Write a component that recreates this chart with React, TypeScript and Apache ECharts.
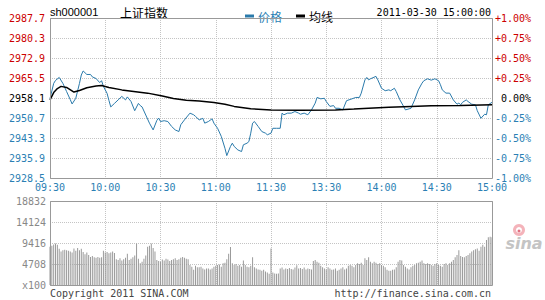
import React, { useEffect, useRef } from "react";
import * as echarts from "echarts";

const PREV_CLOSE = 2958.1;

const timeLabels = ["09:30", "10:00", "10:30", "11:00", "11:30", "13:30", "14:00", "14:30", "15:00"];
const leftTickLabels = ["2928.5", "2935.9", "2943.3", "2950.7", "2958.1", "2965.5", "2972.9", "2980.3", "2987.7"];
const rightTickLabels = ["-1.00%", "-0.75%", "-0.50%", "-0.25%", "0.00%", "+0.25%", "+0.50%", "+0.75%", "+1.00%"];
const volTickLabels = ["x100", "4708", "9416", "14124", "18832"];

// minute index (0 = 09:30, 120 = 11:30, 121 = 13:01, 240 = 15:00)
const priceMinutes = [
  0, 2, 3, 5, 7, 9, 11, 12, 14, 16,
  17, 18, 20, 22, 23, 25, 27, 28, 29, 31,
  32, 33, 35, 37, 39, 41, 42, 44, 46, 48,
  49, 50, 52, 54, 56, 58, 59, 60, 62, 64,
  66, 68, 70, 71, 73, 76, 78, 79, 81, 83,
  84, 86, 88, 89, 91, 93, 95, 96, 98, 99,
  100, 102, 104, 105, 107, 108, 109, 110, 111, 113,
  115, 117, 118, 120,
  121, 123, 125, 126, 127, 129, 131, 133, 135, 136,
  138, 140, 142, 144, 145, 147, 149, 150, 152, 154,
  155, 157, 159, 161, 164, 166, 168, 169, 171, 172,
  173, 174, 177, 178, 180, 182, 184, 185, 187, 188,
  190, 192, 193, 195, 196, 198, 200, 202, 203, 205,
  207, 209, 211, 212, 213, 215, 217, 219, 221, 222,
  223, 224, 226, 227, 229, 231, 232, 234, 236, 237,
  238, 240,
];
const priceValues = [
  2957.9, 2963.5, 2964.6, 2965.7, 2963.5, 2960.5, 2957.5, 2955.9, 2958.0, 2963.5,
  2966.6, 2968.1, 2966.8, 2966.8, 2965.9, 2965.3, 2963.8, 2964.5, 2962.4, 2959.8,
  2957.2, 2954.8, 2956.1, 2957.4, 2958.7, 2957.4, 2958.5, 2956.8, 2953.4, 2956.1,
  2955.3, 2954.8, 2951.8, 2948.8, 2946.3, 2949.8, 2950.7, 2949.4, 2949.7, 2949.4,
  2947.6, 2946.3, 2945.7, 2948.2, 2950.0, 2952.5, 2951.9, 2951.3, 2950.0, 2950.6,
  2948.8, 2949.4, 2950.4, 2948.8, 2946.9, 2943.9, 2939.5, 2936.8, 2940.2, 2941.4,
  2940.2, 2938.9, 2938.3, 2940.8, 2941.4, 2942.0, 2945.1, 2948.8, 2949.4, 2947.6,
  2945.7, 2945.1, 2944.5, 2945.1,
  2946.9, 2946.9, 2946.9, 2952.5, 2951.9, 2952.5, 2952.5, 2953.1, 2952.5, 2952.1,
  2952.5, 2951.9, 2953.7, 2956.2, 2958.3, 2957.8, 2958.0, 2956.8, 2955.0, 2955.3,
  2954.3, 2954.3, 2953.7, 2957.1, 2957.8, 2958.3, 2958.3, 2959.9, 2964.8, 2965.7,
  2964.8, 2965.2, 2966.1, 2964.8, 2961.7, 2960.8, 2961.1, 2960.8, 2961.7, 2960.5,
  2957.4, 2955.0, 2953.7, 2954.1, 2954.3, 2957.4, 2961.1, 2963.6, 2964.5, 2965.2,
  2964.7, 2965.2, 2964.5, 2963.0, 2961.1, 2959.9, 2959.9, 2957.4, 2955.8, 2956.2,
  2955.6, 2956.5, 2957.4, 2956.8, 2955.8, 2955.6, 2953.4, 2950.6, 2952.1, 2951.9,
  2955.6, 2956.5,
];

const avgMinutes = [0, 2, 4, 6, 9, 13, 16, 20, 25, 28, 32, 39, 53, 61, 67, 74, 81, 89, 95, 100, 109, 120, 136, 155, 165, 173, 184, 196, 207, 223, 240];
const avgValues = [
  2957.4, 2960.1, 2961.6, 2962.4, 2962.0, 2960.3, 2960.9, 2961.9, 2962.5, 2962.7,
  2962.0, 2961.1, 2959.9, 2958.8, 2957.9, 2957.3, 2957.0, 2956.4, 2955.8, 2955.0,
  2954.1, 2953.7, 2953.6, 2953.7, 2954.0, 2954.3, 2954.7, 2955.0, 2955.2, 2955.3,
  2955.6,
];

// volume (x100), one per minute index 0..240
const volumes = [
  8600, 8800, 9100, 9300, 9000, 8100, 7500, 7800, 7900, 7800,
  7700, 7500, 7300, 8200, 7700, 8300, 7800, 8100, 7400, 6900,
  7300, 6700, 6300, 6500, 6200, 6100, 6300, 6100, 6200, 7700,
  7300, 7400, 7100, 7300, 7500, 7200, 5800, 5600, 6000, 5500,
  5800, 6100, 7000, 5600, 5900, 6200, 6600, 9300, 5900, 4900,
  5200, 5900, 6600, 8600, 8800, 9300, 8300, 7500, 5600, 5400,
  5200, 5700, 5500, 5900, 5700, 5400, 5600, 5800, 6000, 5600,
  5800, 6100, 6300, 6100, 5900, 5800, 4500, 4100, 3400, 4300,
  4000, 4000, 4100, 3700, 3500, 3700, 3700, 3500, 3700, 4100,
  4300, 4500, 4600, 4100, 4900, 5000, 5800, 7000, 8500, 4900,
  4500, 4700, 4300, 4500, 4100, 5500, 4500, 4100, 4000, 4300,
  6200, 4000, 3700, 3500, 3400, 3200, 3400, 3000, 2800, 2500,
  8200,
  2800, 2600, 2500, 2600, 3700,
  3900, 3500, 3700, 3600, 3800, 3600, 3500, 3900, 4400, 3700, 3800, 3600, 3900, 3500, 3700, 3600, 3500,
  5400, 5600, 5200, 5000,
  4300, 4000, 3700, 3500, 4000, 3700, 3400, 3500, 3700,
  3200, 3400, 3700, 4000, 3500, 3700,
  4300, 4500, 4300, 4000, 4500, 4900, 4700, 5000, 4500,
  6000, 5600, 6200, 5200,
  4900, 5200, 5000, 4700, 4900, 4500, 4300,
  4000, 3400, 3200, 3200, 3400, 3500, 4000,
  5200, 5600, 5500,
  4500, 4100, 3700, 3500, 4000, 4300,
  4500, 4900, 5000, 5200, 5500, 4900, 4700,
  4900, 4700, 4500, 4300, 4700, 4900, 4500, 4300, 4100, 4700, 4900, 4500,
  4900, 5200, 5600, 6200, 6700, 7800,
  6500, 6300, 6200, 6500, 6700, 7100, 7500,
  7800, 8000, 8200, 7700, 8600,
  9000, 8600, 10100, 10700, 10800, 10700,
];

const BLUE = "#2b7fb4";
const LINE_BLUE = "#2a7aab";
const RED = "#cc0000";
const MONO = '"DejaVu Sans Mono", monospace';
const GRID_LINE = { type: "dotted" as const, color: "#c4c4c4", width: 1 };

const toPct = (p: number) => ((p - PREV_CLOSE) / PREV_CLOSE) * 100;
const pctIndex = (v: number | string) => Math.round((Number(v) + 1) / 0.25);
const pctColor = (v: any) => {
  const i = pctIndex(v);
  return i > 4 ? RED : i === 4 ? "#000000" : BLUE;
};

export default function App() {
  const ref = useRef<HTMLDivElement>(null);

  useEffect(() => {
    if (!ref.current) return;
    const chart = echarts.init(ref.current, undefined, { renderer: "svg" });
    chart.setOption({
      animation: false,
      backgroundColor: "#ffffff",
      grid: [
        { left: 50, top: 18, width: 442, height: 160 },
        { left: 50, top: 201, width: 442, height: 84 },
      ],
      legend: {
        left: 240,
        top: 5,
        icon: "rect",
        itemWidth: 9,
        itemHeight: 3,
        itemGap: 14,
        selectedMode: false,
        textStyle: { fontSize: 12, fontFamily: '"Noto Sans CJK SC"', padding: [0, 0, 0, -1] },
        data: [
          { name: "价格", textStyle: { color: BLUE } },
          { name: "均线", textStyle: { color: "#000000" } },
        ],
      },
      xAxis: [
        {
          type: "value",
          gridIndex: 0,
          min: 0,
          max: 240,
          interval: 30,
          axisLine: { show: false },
          axisTick: { show: false },
          axisLabel: {
            formatter: (v: number) => timeLabels[Math.round(v / 30)],
            color: BLUE,
            fontFamily: MONO,
            fontSize: 10,
            margin: 4,
          },
          splitLine: { show: true, lineStyle: GRID_LINE },
        },
        {
          type: "value",
          gridIndex: 1,
          min: 0,
          max: 240,
          interval: 30,
          axisLine: { show: false },
          axisTick: { show: false },
          axisLabel: { show: false },
          splitLine: { show: true, lineStyle: GRID_LINE },
        },
      ],
      yAxis: [
        {
          type: "value",
          gridIndex: 0,
          position: "left",
          min: -1,
          max: 1,
          interval: 0.25,
          axisLine: { show: false },
          axisTick: { show: false },
          axisLabel: {
            formatter: (v: number) => leftTickLabels[pctIndex(v)],
            color: pctColor,
            fontFamily: MONO,
            fontSize: 10,
            margin: 5,
          },
          splitLine: { show: true, lineStyle: GRID_LINE },
        },
        {
          type: "value",
          gridIndex: 0,
          position: "right",
          min: -1,
          max: 1,
          interval: 0.25,
          axisLine: { show: false },
          axisTick: { show: false },
          axisLabel: {
            formatter: (v: number) => rightTickLabels[pctIndex(v)],
            color: pctColor,
            fontFamily: MONO,
            fontSize: 10,
            align: "right",
            margin: 39,
          },
          splitLine: { show: false },
        },
        {
          type: "value",
          gridIndex: 1,
          min: 0,
          max: 18832,
          interval: 4708,
          axisLine: { show: false },
          axisTick: { show: false },
          axisLabel: {
            formatter: (v: number) => volTickLabels[Math.round(v / 4708)],
            color: "#888888",
            fontFamily: MONO,
            fontSize: 10,
            margin: 4,
          },
          splitLine: { show: true, lineStyle: GRID_LINE },
        },
      ],
      series: [
        {
          name: "价格",
          type: "line",
          xAxisIndex: 0,
          yAxisIndex: 0,
          symbol: "none",
          color: LINE_BLUE,
          itemStyle: { color: LINE_BLUE },
          lineStyle: { color: LINE_BLUE, width: 1 },
          data: priceMinutes.map((m, i) => [m, toPct(priceValues[i])]),
          z: 3,
        },
        {
          name: "均线",
          type: "line",
          xAxisIndex: 0,
          yAxisIndex: 0,
          symbol: "none",
          color: "#000000",
          itemStyle: { color: "#000000" },
          lineStyle: { color: "#000000", width: 1.5 },
          data: avgMinutes.map((m, i) => [m, toPct(avgValues[i])]),
          z: 4,
        },
        {
          name: "成交量",
          type: "bar",
          xAxisIndex: 1,
          yAxisIndex: 2,
          barWidth: 1,
          itemStyle: { color: "#9a9a9a" },
          data: volumes.map((v, i) => [i, v]),
        },
      ],
      graphic: [
        {
          type: "text",
          x: 50,
          y: 12,
          style: { text: "sh000001", font: '11px "Liberation Sans"', fill: "#000", textVerticalAlign: "middle", verticalAlign: "middle" },
        },
        {
          type: "text",
          x: 120,
          y: 12,
          style: { text: "上证指数", font: '12px "Noto Sans CJK SC"', fill: "#000", textVerticalAlign: "middle", verticalAlign: "middle" },
        },
        {
          type: "text",
          x: 491,
          y: 12,
          style: {
            text: "2011-03-30 15:00:00",
            font: '10px "DejaVu Sans Mono"',
            fill: "#000",
            textAlign: "right",
            align: "right",
            textVerticalAlign: "middle",
            verticalAlign: "middle",
          },
        },
        {
          type: "rect",
          z: 100,
          shape: { x: 50.5, y: 18.5, width: 442, height: 160 },
          style: { fill: "none", stroke: "#999999", lineWidth: 1 },
        },
        {
          type: "rect",
          z: 100,
          shape: { x: 50.5, y: 201.5, width: 442, height: 84 },
          style: { fill: "none", stroke: "#999999", lineWidth: 1 },
        },
        {
          type: "text",
          x: 50,
          y: 293,
          style: { text: "Copyright 2011 SINA.COM", font: '10px "DejaVu Sans Mono"', fill: "#444", textVerticalAlign: "middle", verticalAlign: "middle" },
        },
        {
          type: "text",
          x: 491,
          y: 293,
          style: {
            text: "http://finance.sina.com.cn",
            font: '10px "DejaVu Sans Mono"',
            fill: "#444",
            textAlign: "right",
            align: "right",
            textVerticalAlign: "middle",
            verticalAlign: "middle",
          },
        },
        {
          type: "ring",
          shape: { cx: 519, cy: 230, r: 6, r0: 3 },
          style: { fill: "#f4b3ba" },
        },
        {
          type: "circle",
          shape: { cx: 519, cy: 231, r: 1.5 },
          style: { fill: "#e07080" },
        },
        {
          type: "text",
          x: 524,
          y: 243,
          style: {
            text: "sina",
            font: 'italic bold 16px "DejaVu Sans"',
            fill: "#c4c4c4",
            textAlign: "center",
            align: "center",
            textVerticalAlign: "middle",
            verticalAlign: "middle",
          },
        },
      ],
    });
    return () => chart.dispose();
  }, []);

  return (
    <div
      ref={ref}
      style={{ position: "fixed", left: 0, top: 0, width: 545, height: 300, background: "#fff" }}
    />
  );
}
